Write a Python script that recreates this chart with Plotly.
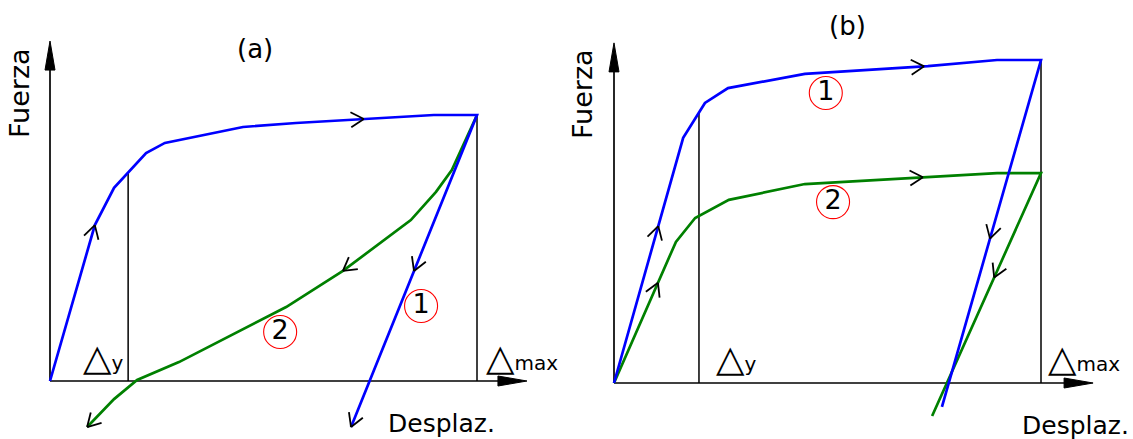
import numpy as np
import plotly.graph_objects as go

W, H = 1133, 439
FONT = "DejaVu Sans"
BLUE = "#0000FF"
GREEN = "#008000"

# ---------------- data (normalised: Δmax = 10, Fmax = 10) ----------------
# Panel (a)
a_curve1_x = [0, 1.05, 1.50, 1.83, 2.25, 2.69, 4.52, 5.76, 7.35, 8.99, 10.0, 7.05]
a_curve1_y = [0, 5.86, 7.26, 7.82, 8.57, 8.95, 9.55, 9.70, 9.85, 10.0, 10.0, -1.73]
a_curve2_x = [10.0, 9.41, 9.04, 8.45, 6.86, 5.53, 3.02, 2.04, 1.50, 0.87]
a_curve2_y = [10.0, 7.93, 7.11, 6.05, 4.14, 2.78, 0.71, 0.04, -0.68, -1.73]
a_dy, a_dmax = 1.83, 10.0
# Panel (b)
b_curve1_x = [0, 1.62, 2.13, 2.67, 4.47, 7.35, 8.97, 10.0, 7.68]
b_curve1_y = [0, 7.59, 8.67, 9.13, 9.57, 9.81, 10.0, 10.0, -0.74]
b_curve2_x = [0, 1.45, 1.90, 2.69, 4.47, 7.35, 8.97, 10.0, 7.45]
b_curve2_y = [0, 4.37, 5.11, 5.67, 6.16, 6.38, 6.50, 6.50, -1.02]
b_dy, b_dmax = 1.99, 10.0

# direction arrows: (curve, segment index, fraction along segment)
a_arrows = [(1, 0, 1.0), (1, 7, 1.0), (1, 10, 0.5), (1, 10, 1.0), (2, 3, 1.0), (2, 8, 1.0)]
b_arrows = [(1, 0, 0.64), (2, 0, 0.71), (1, 4, 0.97), (2, 4, 0.96), (1, 7, 0.515), (2, 7, 0.43)]

# circled labels
a_lab_x, a_lab_y, a_lab_t = [8.69, 5.39], [2.82, 1.84], ["1", "2"]
b_lab_x, b_lab_y, b_lab_t = [4.96, 5.13], [8.98, 5.60], ["1", "2"]

# axis arrow tips
a_xtip, a_ytip = 11.17, 12.78
b_xtip, b_ytip = 11.22, 10.53

# ---------------- geometry of panels (pixels) ----------------
panels = {
    "a": dict(dom=(0, 566), ox=50, oy=381, sx=42.7, sy=26.6),
    "b": dict(dom=(566, 1133), ox=614, oy=383, sx=42.7, sy=32.3),
}
for p in panels.values():
    d0, d1 = p["dom"]
    p["xr"] = [-(p["ox"] - d0) / p["sx"], -(p["ox"] - d0) / p["sx"] + (d1 - d0) / p["sx"]]
    p["yr"] = [-(H - p["oy"]) / p["sy"], -(H - p["oy"]) / p["sy"] + H / p["sy"]]

fig = go.Figure()


def add_line(ax, x, y, color, width):
    fig.add_trace(go.Scatter(x=x, y=y, mode="lines", line=dict(color=color, width=width),
                             xaxis=ax[0], yaxis=ax[1], hoverinfo="skip", showlegend=False))


def chevrons(ax, p, curves, arrows, L=15, ang=30):
    xs, ys = [], []
    th = np.radians(ang)
    for c, i, t in arrows:
        cx, cy = curves[c]
        x0, y0, x1, y1 = cx[i], cy[i], cx[i + 1], cy[i + 1]
        tx, ty = x0 + t * (x1 - x0), y0 + t * (y1 - y0)
        dx, dy = (x1 - x0) * p["sx"], (y1 - y0) * p["sy"]
        n = np.hypot(dx, dy)
        dx, dy = dx / n, dy / n
        for s in (1, -1):
            rx = dx * np.cos(s * th) - dy * np.sin(s * th)
            ry = dx * np.sin(s * th) + dy * np.cos(s * th)
            xs += [tx - L * rx / p["sx"], tx, None]
            ys += [ty - L * ry / p["sy"], ty, None]
    add_line(ax, xs, ys, "black", 1.8)


def axis_arrows(ax, p, xtip, ytip, L=29, hw=5):
    fig.add_trace(go.Scatter(
        x=[xtip, xtip - L / p["sx"], xtip - L / p["sx"], xtip],
        y=[0, hw / p["sy"], -hw / p["sy"], 0], mode="lines", fill="toself",
        fillcolor="black", line=dict(color="black", width=1),
        xaxis=ax[0], yaxis=ax[1], hoverinfo="skip", showlegend=False))
    fig.add_trace(go.Scatter(
        x=[0, hw / p["sx"], -hw / p["sx"], 0],
        y=[ytip, ytip - L / p["sy"], ytip - L / p["sy"], ytip], mode="lines", fill="toself",
        fillcolor="black", line=dict(color="black", width=1),
        xaxis=ax[0], yaxis=ax[1], hoverinfo="skip", showlegend=False))


def panel(key, ax, c1x, c1y, c2x, c2y, dy, dmax, arrows, lx, ly, lt, xtip, ytip, load_n):
    p = panels[key]
    add_line(ax, [0, xtip - 20 / p["sx"]], [0, 0], "black", 1.7)
    add_line(ax, [0, 0], [0, ytip - 20 / p["sy"]], "black", 1.7)
    axis_arrows(ax, p, xtip, ytip)
    f_dy = float(np.interp(dy, c1x[:load_n], c1y[:load_n]))
    f_max = float(np.interp(dmax, c1x[:load_n], c1y[:load_n]))
    add_line(ax, [dy, dy], [0, f_dy], "black", 1.5)
    add_line(ax, [dmax, dmax], [0, f_max], "black", 1.5)
    add_line(ax, c2x, c2y, GREEN, 2.7)
    add_line(ax, c1x, c1y, BLUE, 2.7)
    chevrons(ax, p, {1: (c1x, c1y), 2: (c2x, c2y)}, arrows)
    fig.add_trace(go.Scatter(x=lx, y=ly, mode="markers+text", text=lt,
                             textposition="middle center",
                             textfont=dict(family=FONT, size=27, color="black"),
                             marker=dict(symbol="circle-open", size=33, color="red",
                                         line=dict(color="red", width=1.1)),
                             xaxis=ax[0], yaxis=ax[1], hoverinfo="skip", showlegend=False))


panel("a", ("x", "y"), a_curve1_x, a_curve1_y, a_curve2_x, a_curve2_y, a_dy, a_dmax,
      a_arrows, a_lab_x, a_lab_y, a_lab_t, a_xtip, a_ytip, 11)
panel("b", ("x2", "y2"), b_curve1_x, b_curve1_y, b_curve2_x, b_curve2_y, b_dy, b_dmax,
      b_arrows, b_lab_x, b_lab_y, b_lab_t, b_xtip, b_ytip, 8)

ann = []
DY = "<span style='font-size:37px'>△</span>y"
DM = "<span style='font-size:37px'>△</span>max"
for key, xr, yr, xdy, xdm, ylab in [("a", "x", "y", 0.73, 10.16, 0.90), ("b", "x2", "y2", 2.34, 10.12, 0.77)]:
    ann.append(dict(x=xdy, y=ylab, xref=xr, yref=yr, text=DY, showarrow=False,
                    xanchor="left", yanchor="middle", font=dict(family=FONT, size=20, color="black")))
    ann.append(dict(x=xdm, y=ylab, xref=xr, yref=yr, text=DM, showarrow=False,
                    xanchor="left", yanchor="middle", font=dict(family=FONT, size=20, color="black")))


def paper_text(px, py, text, size, angle=0):
    ann.append(dict(x=px / W, y=1 - py / H, xref="paper", yref="paper", text=text,
                    showarrow=False, xanchor="center", yanchor="middle", textangle=angle,
                    font=dict(family=FONT, size=size, color="black")))


paper_text(255, 49, "(a)", 26)
paper_text(847, 26, "(b)", 26)
paper_text(19, 93, "Fuerza", 27, -90)
paper_text(582, 94, "Fuerza", 27, -90)
paper_text(441, 423, "Desplaz.", 25)
paper_text(1075, 425, "Desplaz.", 25)

pa, pb = panels["a"], panels["b"]
ax_common = dict(visible=False, fixedrange=True)
fig.update_layout(
    width=W, height=H, margin=dict(l=0, r=0, t=0, b=0),
    paper_bgcolor="white", plot_bgcolor="white", showlegend=False,
    xaxis=dict(domain=[pa["dom"][0] / W, pa["dom"][1] / W], range=pa["xr"], **ax_common),
    yaxis=dict(domain=[0, 1], range=pa["yr"], **ax_common),
    xaxis2=dict(domain=[pb["dom"][0] / W, pb["dom"][1] / W], range=pb["xr"], anchor="y2", **ax_common),
    yaxis2=dict(domain=[0, 1], range=pb["yr"], anchor="x2", **ax_common),
    annotations=ann,
)
fig.write_html("out.html", config={"displayModeBar": False},
               post_script="document.body.style.margin='0';document.body.style.overflow='hidden';")
